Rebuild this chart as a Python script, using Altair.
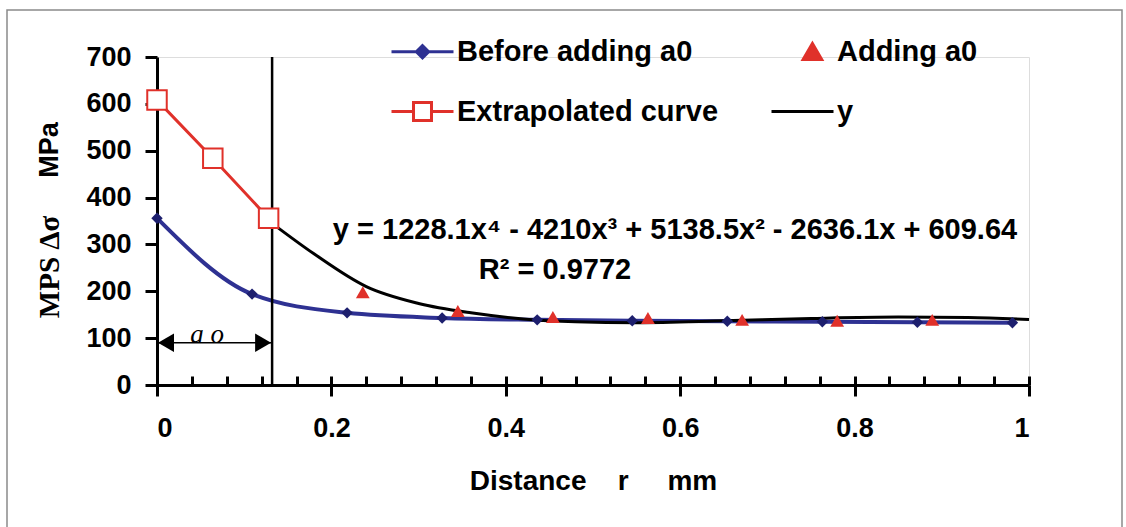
import altair as alt
import pandas as pd

# ---- data ----
before_x = [0, 0.109, 0.218, 0.327, 0.436, 0.545, 0.654, 0.763, 0.872, 0.981]
before_y = [356, 194, 154, 143, 139, 137, 136, 135, 134, 133]
adding_x = [0.236, 0.345, 0.454, 0.563, 0.671, 0.780, 0.889]
adding_y = [198, 158, 145, 143, 139, 137, 139]
extrap_x = [0, 0.064, 0.128]
extrap_y = [608, 484, 356]
fit_x = [0.132, 0.18, 0.24, 0.30, 0.36, 0.42, 0.48, 0.55, 0.65, 0.75, 0.85, 0.93, 1.0]
fit_y = [345, 280, 210, 174, 154, 141, 135, 133, 137, 142, 145, 144, 140]
a0_x = [0.132]
a0_top = [700]
arrow_x = [0, 0.132]
arrow_y = [90]
legend_names = ["Before adding a0", "Extrapolated curve", "Adding a0", "y"]
x_major = [0, 0.2, 0.4, 0.6, 0.8, 1]
x_minor = [0, 0.04, 0.08, 0.12, 0.16, 0.2, 0.24, 0.28, 0.32, 0.36, 0.4, 0.44, 0.48,
           0.52, 0.56, 0.6, 0.64, 0.68, 0.72, 0.76, 0.8, 0.84, 0.88, 0.92, 0.96, 1.0]
y_ticks = [0, 100, 200, 300, 400, 500, 600, 700]
equation = "y = 1228.1x\u2074 - 4210x\u00b3 + 5138.5x\u00b2 - 2636.1x + 609.64"
r2_text = "R\u00b2 = 0.9772"
x_title = "Distance\u00a0\u00a0\u00a0\u00a0r\u00a0\u00a0\u00a0\u00a0\u00a0mm"
y_title_a = "MPS \u0394\u03c3"
y_title_b = "MPa"
a0_label = "a o"

BLUE = "#2E3192"
RED = "#E0312A"
SANS = "Liberation Sans, Arial, sans-serif"
SERIF = "Liberation Serif, Times New Roman, serif"
W, H = 872, 328

before_df = pd.DataFrame({"x": before_x, "y": before_y})
adding_df = pd.DataFrame({"x": adding_x, "y": adding_y})
extrap_df = pd.DataFrame({"x": extrap_x, "y": extrap_y})
fit_df = pd.DataFrame({"x": fit_x, "y": fit_y})
vline_df = pd.DataFrame({"x": a0_x, "y": [0], "y2": a0_top})
arrow_df = pd.DataFrame({"x": [arrow_x[0]], "x2": [arrow_x[1]], "y": arrow_y})
legend_df = pd.DataFrame({"series": legend_names})
one = pd.DataFrame({"k": [0]})

xs = alt.Scale(domain=[0, 1], nice=False, zero=False)
ys = alt.Scale(domain=[0, 700], nice=False)

main_x_axis = alt.Axis(
    orient="bottom", values=x_major, format="~g", tickSize=11, tickWidth=3,
    tickColor="black", domainColor="black", domainWidth=3, grid=False,
    labelFont=SANS, labelFontSize=27, labelFontWeight="bold", labelColor="black",
    labelPadding=19, title=x_title, titleFont=SANS, titleFontSize=28,
    titleFontWeight="bold", titleColor="black", titlePadding=26,
)
minor_x_axis = alt.Axis(
    orient="bottom", values=x_minor, offset=-9, tickSize=9, tickWidth=3,
    tickColor="black", domain=False, labels=False, grid=False, title=None,
)
y_axis = alt.Axis(
    values=y_ticks, tickSize=12, tickWidth=3, tickColor="black",
    domainColor="black", domainWidth=3, grid=False, labelFont=SANS,
    labelFontSize=27, labelFontWeight="bold", labelColor="black",
    labelPadding=14, title=None,
)


def X(field="x", axis=None):
    if axis is None:
        return alt.X(f"{field}:Q", scale=xs, axis=None)
    return alt.X(f"{field}:Q", scale=xs, axis=axis)


def Y(field="y"):
    return alt.Y(f"{field}:Q", scale=ys, axis=y_axis, title=None)


border = alt.Chart(one).mark_rect(
    fill="transparent", stroke="#8a8a8a", strokeWidth=1.5
).encode(x=alt.value(-150), x2=alt.value(965), y=alt.value(-47), y2=alt.value(530))

blue_line = alt.Chart(before_df).mark_line(
    color=BLUE, strokeWidth=4, interpolate="monotone"
).encode(x=X(axis=main_x_axis), y=Y())

blue_pts = alt.Chart(before_df).mark_point(
    shape="diamond", filled=True, color="#1d1f6e", size=130, opacity=1
).encode(x=X(axis=minor_x_axis), y=Y())

red_line = alt.Chart(extrap_df).mark_line(color=RED, strokeWidth=3).encode(x=X(), y=Y())

red_sq = alt.Chart(extrap_df).mark_point(
    shape="square", filled=False, fill="white", stroke=RED, strokeWidth=2,
    size=380, opacity=1
).encode(x=X(), y=Y())

tri = alt.Chart(adding_df).mark_point(
    shape="triangle-up", filled=True, color=RED, size=190, opacity=1
).encode(x=X(), y=Y())

fit_line = alt.Chart(fit_df).mark_line(
    color="black", strokeWidth=3, interpolate="monotone"
).encode(x=X(), y=Y())

vline = alt.Chart(vline_df).mark_rule(color="black", strokeWidth=2.5).encode(
    x=X(), y=Y(), y2="y2:Q")

arrow = alt.Chart(arrow_df).mark_rule(color="black", strokeWidth=1.5).encode(
    x=X(), x2="x2:Q", y=Y())
head_l = alt.Chart(arrow_df).mark_point(
    shape="triangle-left", filled=True, color="black", size=340, xOffset=9, opacity=1
).encode(x=X(), y=Y())
head_r = alt.Chart(arrow_df).mark_point(
    shape="triangle-right", filled=True, color="black", size=340, xOffset=-9, opacity=1
).encode(x=X("x2"), y=Y())

a0_txt = alt.Chart(one).mark_text(
    text=a0_label, font=SERIF, fontSize=27, fontStyle="italic", color="black",
    align="center", baseline="middle"
).encode(x=alt.value(50), y=alt.value(278))

eq_txt = alt.Chart(one).mark_text(
    text=equation, font=SANS, fontSize=29, fontWeight="bold", color="black",
    align="center", baseline="middle"
).encode(x=alt.value(518), y=alt.value(173))

r2_txt = alt.Chart(one).mark_text(
    text=r2_text, font=SANS, fontSize=29, fontWeight="bold", color="black",
    align="center", baseline="middle"
).encode(x=alt.value(398), y=alt.value(213))

yt_a = alt.Chart(one).mark_text(
    text=y_title_a, font=SERIF, fontSize=29, fontWeight="bold", color="black",
    angle=270, align="center", baseline="middle"
).encode(x=alt.value(-107), y=alt.value(210))
yt_b = alt.Chart(one).mark_text(
    text=y_title_b, font=SANS, fontSize=27, fontWeight="bold", color="black",
    angle=270, align="center", baseline="middle"
).encode(x=alt.value(-107), y=alt.value(93))

sym_paths = [
    "M-1,0L-0.2,0L0,-0.2L0.2,0L1,0L0.2,0L0,0.2L-0.2,0Z",
    "M-1,0L-0.29,0M0.29,0L1,0M-0.29,-0.29L0.29,-0.29L0.29,0.29L-0.29,0.29Z",
    "M0.32,-0.27L0.62,0.25L0.02,0.25Z",
    "M-1,0L1,0",
]
leg = alt.Legend(
    orient="none", legendX=233, legendY=-38, columns=2, title=None,
    symbolSize=3844, symbolStrokeWidth=3, labelFont=SANS, labelFontSize=29,
    labelFontWeight="bold", labelColor="black", labelOffset=2, labelLimit=0,
    columnPadding=46, rowPadding=12, padding=0,
)
legend_layer = alt.Chart(legend_df).transform_filter("false").mark_point(
    opacity=1, strokeWidth=3
).encode(
    shape=alt.Shape("series:N", scale=alt.Scale(domain=legend_names, range=sym_paths), legend=leg),
    stroke=alt.Stroke("series:N", scale=alt.Scale(domain=legend_names, range=[BLUE, RED, RED, "black"]), legend=leg),
    fill=alt.Fill("series:N", scale=alt.Scale(domain=legend_names, range=[BLUE, "white", RED, "black"]), legend=leg),
)

chart = alt.layer(
    border, red_line, blue_line, fit_line, vline, arrow, head_l, head_r,
    blue_pts, red_sq, tri, a0_txt, eq_txt, r2_txt, yt_a, yt_b, legend_layer,
).resolve_axis(x="independent").properties(
    width=W, height=H,
    autosize=alt.AutoSizeParams(type="none"),
    padding={"left": 157, "top": 57, "right": 97, "bottom": 142},
).configure_view(strokeWidth=0).configure(background="white")

chart.save("out.html", embed_options={"renderer": "svg", "actions": False})
